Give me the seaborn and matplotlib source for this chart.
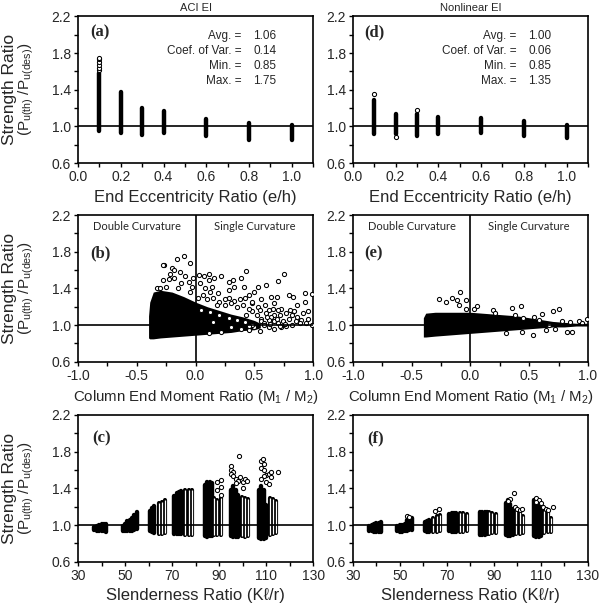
import matplotlib
matplotlib.use("Agg")
import matplotlib.pyplot as plt
import seaborn as sns
from matplotlib.ticker import FormatStrFormatter

# ---- data ----
# (a) / (d): vertical stacks of results at each end eccentricity ratio
ecc = [0.1, 0.2, 0.3, 0.4, 0.6, 0.8, 1.0]
a_lo = [0.95, 0.93, 0.91, 0.93, 0.89, 0.85, 0.85]
a_hi = [1.58, 1.38, 1.20, 1.17, 1.08, 1.04, 1.01]
a_out_x = [0.1, 0.1, 0.1, 0.1, 0.1, 0.1]
a_out_y = [1.61, 1.64, 1.67, 1.70, 1.73, 1.75]

d_lo = [0.92, 0.92, 0.90, 0.92, 0.93, 0.90, 0.87]
d_hi = [1.29, 1.14, 1.13, 1.10, 1.09, 1.06, 1.02]
d_out_x = [0.1, 0.2, 0.3]
d_out_y = [1.35, 0.88, 1.18]

# (b) / (e): dense core of the cloud (edges) plus the scattered points around it
b_env_x = [-0.40, -0.39, -0.36, -0.30, -0.20, -0.10, 0.00, 0.10, 0.20, 0.30, 0.40, 0.50, 0.55]
b_env_hi = [1.10, 1.25, 1.36, 1.38, 1.36, 1.31, 1.25, 1.20, 1.16, 1.12, 1.09, 1.05, 1.02]
b_env_lo = [0.86, 0.85, 0.85, 0.86, 0.87, 0.88, 0.89, 0.90, 0.91, 0.92, 0.94, 0.95, 0.97]
b_x = [-0.27, -0.28, -0.16, -0.10, -0.05, -0.20, -0.18, -0.22, -0.13, -0.28, -0.23, -0.18,
       -0.09, -0.06, -0.02, 0.03, 0.07, 0.11, 0.11, 0.16, 0.22, 0.28, 0.32, 0.39, 0.43,
       0.41, 0.45, 0.53, 0.60, 0.70, 0.75, 0.50, 0.56, 0.64, 0.69, 0.79, 0.83, 0.93, 0.99,
       0.86, 0.93, 0.96, 0.82, 0.90, 0.94, 0.73, 0.67, 0.77, 0.84, 0.62, 0.53, 0.48, 0.33,
       0.25, 0.19, 0.28, 0.33, 0.14, 0.08, 0.04, -0.03, -0.12, -0.33, 0.73, 0.55, 0.45,
       0.64, 0.56, 0.39, 0.22, 0.11, 0.67,
       0.52, 0.56, 0.60, 0.64, 0.67, 0.72, 0.74, 0.79, 0.82, 0.86, 0.89, 0.96, 0.99, 0.91,
       0.80, 0.70, 0.59, 0.66, 0.55, 0.48, 0.43, 0.62, 0.50, 0.67,
       0.02, 0.06, 0.10, 0.15, 0.20, 0.25, 0.30, 0.35, 0.40, 0.45, 0.12, 0.18, 0.28, 0.38,
       0.42, 0.48, -0.05, -0.15, -0.25, -0.30,
       0.05, 0.12, 0.20, 0.28, 0.35, 0.42, 0.48, 0.15, 0.30, 0.45, 0.58, 0.62, 0.70, 0.77,
       0.58, 0.63, 0.69, 0.76, 0.85, 0.61, 0.72]
b_y = [1.66, 1.65, 1.72, 1.75, 1.68, 1.62, 1.60, 1.56, 1.58, 1.49, 1.50, 1.51,
       1.53, 1.47, 1.51, 1.55, 1.53, 1.56, 1.49, 1.51, 1.53, 1.47, 1.49, 1.51, 1.59,
       1.41, 1.33, 1.41, 1.44, 1.48, 1.56, 1.36, 1.29, 1.31, 1.31, 1.33, 1.31, 1.35, 1.34,
       1.22, 1.25, 1.15, 1.11, 1.06, 1.02, 1.18, 1.24, 1.13, 1.15, 1.16, 1.20, 1.24, 1.26,
       1.29, 1.35, 1.38, 1.42, 1.42, 1.40, 1.46, 1.42, 1.46, 1.40, 0.98, 0.94, 0.95,
       1.04, 1.07, 0.96, 0.93, 0.91, 1.11,
       1.11, 1.04, 1.13, 1.09, 1.04, 1.11, 1.04, 1.07, 1.00, 1.09, 1.02, 1.07, 1.00, 1.13,
       1.16, 1.16, 1.22, 1.18, 1.16, 1.15, 1.11, 0.98, 0.98, 0.96,
       1.30, 1.33, 1.28, 1.30, 1.25, 1.22, 1.24, 1.20, 1.22, 1.18, 1.36, 1.22, 1.30, 1.28,
       1.30, 1.25, 1.36, 1.40, 1.42, 1.40,
       1.17, 1.14, 1.11, 1.08, 1.06, 1.03, 1.00, 1.03, 0.98, 0.99, 1.02, 1.06, 1.02, 0.99,
       1.00, 1.01, 1.07, 1.01, 1.05, 1.09, 0.99]

e_env_x = [-0.40, -0.38, -0.30, -0.20, -0.10, 0.00, 0.10, 0.20, 0.30, 0.40, 0.50, 0.60,
           0.70, 0.80, 0.90, 1.00]
e_env_hi = [1.08, 1.13, 1.14, 1.14, 1.14, 1.14, 1.13, 1.12, 1.11, 1.10, 1.08, 1.06,
            1.04, 1.03, 1.02, 1.02]
e_env_lo = [0.87, 0.87, 0.88, 0.89, 0.90, 0.91, 0.92, 0.93, 0.94, 0.95, 0.96, 0.97,
            0.98, 0.98, 0.99, 0.99]
e_x = [-0.09, -0.27, -0.16, -0.21, -0.11, -0.10, -0.04, -0.04, 0.06, 0.03, 0.19, 0.35,
       0.43, 0.61, 0.75, 0.70, 0.53, 0.44, 0.30, 0.82, 0.86, 0.92, 0.99, 0.67, 0.78,
       0.85, 0.95, 0.21, 0.38, 0.54, 0.64, 0.72,
       0.45, 0.58]
e_y = [1.36, 1.28, 1.30, 1.25, 1.27, 1.22, 1.27, 1.18, 1.21, 1.18, 1.16, 1.19,
       1.21, 1.12, 1.18, 1.15, 0.89, 0.92, 0.91, 0.92, 0.92, 1.04, 1.07, 1.00, 1.04,
       1.03, 1.02, 1.13, 1.11, 1.09, 0.95, 0.96,
       1.08, 1.06]

# (c) / (f): stacks at each slenderness ratio -- solid blocks and hollow stripes
blk_x = [37, 38, 39, 40, 41, 42, 49, 50, 51, 52, 53, 54, 55, 60.5, 61.5, 62.5,
         71, 72, 73, 74, 84, 85, 86, 87, 95, 96, 97, 98, 107, 108, 109, 110]
str_x = [64.3, 65.7, 67.1, 75.6, 77.0, 78.4, 87.9, 89.3, 90.7, 99.6, 101.0, 102.4,
         111.5, 112.9, 114.3]

c_blk_lo = [0.95, 0.94, 0.93, 0.93, 0.93, 0.92, 0.94, 0.93, 0.93, 0.93, 0.94, 0.95, 0.96,
            0.93, 0.92, 0.91, 0.90, 0.90, 0.90, 0.90, 0.88, 0.87, 0.88, 0.88,
            0.88, 0.87, 0.87, 0.87, 0.86, 0.85, 0.85, 0.86]
c_blk_hi = [0.98, 0.99, 1.00, 1.01, 1.01, 1.01, 0.99, 1.01, 1.04, 1.06, 1.08, 1.11, 1.14,
            1.15, 1.19, 1.21, 1.32, 1.35, 1.36, 1.37, 1.44, 1.47, 1.47, 1.46,
            1.38, 1.42, 1.38, 1.33, 1.38, 1.42, 1.38, 1.22]
c_str_lo = [0.90, 0.90, 0.91, 0.89, 0.89, 0.89, 0.89, 0.89, 0.89, 0.88, 0.87, 0.88,
            0.89, 0.90, 0.91]
c_str_hi = [1.24, 1.25, 1.27, 1.38, 1.38, 1.38, 1.30, 1.27, 1.29, 1.31, 1.30, 1.28,
            1.30, 1.28, 1.26]
c_out_x = [89, 91, 91, 89, 91, 98.5, 95, 95, 96, 95, 96, 97, 98, 99, 97, 100, 101, 102, 100,
           108, 108.5, 109, 108, 109, 110, 109, 108, 111, 112, 112, 115, 110, 111]
c_out_y = [1.47, 1.49, 1.41, 1.38, 1.33, 1.75, 1.64, 1.60, 1.58, 1.56, 1.53, 1.50, 1.48, 1.52,
           1.46, 1.47, 1.50, 1.48, 1.40,
           1.70, 1.72, 1.67, 1.62, 1.60, 1.55, 1.53, 1.50, 1.56, 1.58, 1.52, 1.58, 1.47, 1.45]

f_blk_lo = [0.94, 0.93, 0.92, 0.92, 0.92, 0.92, 0.93, 0.92, 0.92, 0.93, 0.94, 0.95, 0.95,
            0.93, 0.92, 0.92, 0.93, 0.92, 0.92, 0.92, 0.89, 0.89, 0.89, 0.90,
            0.89, 0.88, 0.88, 0.89, 0.88, 0.87, 0.87, 0.88]
f_blk_hi = [0.99, 1.00, 1.01, 1.02, 1.02, 1.03, 0.99, 1.00, 1.00, 1.01, 1.05, 1.08, 1.08,
            1.03, 1.04, 1.05, 1.12, 1.13, 1.13, 1.13, 1.14, 1.14, 1.14, 1.14,
            1.24, 1.27, 1.23, 1.18, 1.27, 1.28, 1.24, 1.17]
f_str_lo = [0.92, 0.92, 0.93, 0.92, 0.92, 0.93, 0.90, 0.91, 0.91, 0.90, 0.90, 0.91,
            0.91, 0.92, 0.92]
f_str_hi = [1.08, 1.10, 1.11, 1.13, 1.13, 1.12, 1.14, 1.13, 1.12, 1.16, 1.15, 1.10,
            1.15, 1.14, 1.08]
f_out_x = [53, 54, 65, 66.5, 98.5, 97, 96, 99, 100, 101, 102, 108, 109, 110, 111, 112, 113, 115, 108]
f_out_y = [1.10, 1.09, 1.15, 1.18, 1.35, 1.28, 1.26, 1.20, 1.17, 1.16, 1.17, 1.29, 1.27, 1.24,
           1.20, 1.18, 1.16, 1.20, 1.25]

stats_a = ["1.06", "0.14", "0.85", "1.75"]
stats_d = ["1.00", "0.06", "0.85", "1.35"]
stat_names = ["Avg. =", "Coef. of Var. =", "Min. =", "Max. ="]

# ---- style ----
sns.set_style("ticks")
plt.rcParams["font.family"] = ["Liberation Sans", "DejaVu Sans"]
plt.rcParams["mathtext.fontset"] = "custom"
plt.rcParams["mathtext.rm"] = "Liberation Sans"
plt.rcParams["mathtext.it"] = "Liberation Sans:italic"

fig = plt.figure(figsize=(6, 6.04), dpi=100)
col_x = [0.13, 0.588]
row_y = [0.730, 0.401, 0.070]
W, H = 0.392, 0.243
axes = [[fig.add_axes([cx, ry, W, H]) for cx in col_x] for ry in row_y]


def setup(ax, xlim, xmaj, xmin, fmt):
    ax.set_xlim(xlim)
    ax.set_ylim(0.6, 2.2)
    ax.set_xticks(xmaj)
    ax.set_xticks(xmin, minor=True)
    ax.set_yticks([0.6, 1.0, 1.4, 1.8, 2.2])
    ax.set_yticks([0.8, 1.2, 1.6, 2.0], minor=True)
    ax.xaxis.set_major_formatter(FormatStrFormatter(fmt))
    ax.yaxis.set_major_formatter(FormatStrFormatter("%.1f"))
    ax.tick_params(which="both", direction="out", length=3, width=1, color="black",
                   labelsize=10, pad=2)
    for s in ax.spines.values():
        s.set_linewidth(1.2)
        s.set_color("black")
    ax.axhline(1.0, color="black", lw=1.2, zorder=5)


def stacks(ax, x, lo, hi):
    ax.vlines(x, lo, hi, colors="black", linewidth=3.2, capstyle="round", zorder=2)


def hollow_stacks(ax, x, lo, hi):
    # stacks of open circles: dark rim with a light core
    ax.vlines(x, lo, hi, colors="black", linewidth=3.0, capstyle="round", zorder=2)
    ax.vlines(x, lo, hi, colors="white", linewidth=0.9, zorder=3)


def dots(ax, x, y):
    sns.scatterplot(x=x, y=y, ax=ax, marker="o", s=9, color="white",
                    edgecolor="black", linewidth=0.75, zorder=4, legend=False)


def ylab(ax):
    ax.text(-0.29, 0.5, "Strength Ratio", rotation=90, fontsize=12.5,
            transform=ax.transAxes, ha="center", va="center")
    ax.text(-0.22, 0.5, r"$\mathregular{(P_{u(th)}\ /P_{u(des)})}$", rotation=90, fontsize=11,
            transform=ax.transAxes, ha="center", va="center")


def tag(ax, s, x, y):
    ax.text(x, y, s, transform=ax.transAxes, fontsize=12, fontweight="bold",
            family="Liberation Serif", ha="left", va="center")


# row 1: end eccentricity
for ax, lo, hi, ox, oy, st, lab, title in [
        (axes[0][0], a_lo, a_hi, a_out_x, a_out_y, stats_a, "(a)", "ACI EI"),
        (axes[0][1], d_lo, d_hi, d_out_x, d_out_y, stats_d, "(d)", "Nonlinear EI")]:
    setup(ax, (0, 1.1), [0, 0.2, 0.4, 0.6, 0.8, 1.0], [0.1, 0.3, 0.5, 0.7, 0.9, 1.1], "%.1f")
    stacks(ax, ecc, lo, hi)
    dots(ax, ox, oy)
    ax.set_xlabel("End Eccentricity Ratio (e/h)", fontsize=12, labelpad=4)
    ax.set_title(title, fontsize=8, pad=4)
    tag(ax, lab, 0.05, 0.89)
    for i, (nm, v) in enumerate(zip(stat_names, st)):
        yy = 0.865 - 0.103 * i
        ax.text(0.695, yy, nm, transform=ax.transAxes, fontsize=8.5, ha="right", va="center")
        ax.text(0.745, yy, v, transform=ax.transAxes, fontsize=8.5, ha="left", va="center")

# row 2: end moment ratio
for ax, ex, ehi, elo, px, py, lab in [
        (axes[1][0], b_env_x, b_env_hi, b_env_lo, b_x, b_y, "(b)"),
        (axes[1][1], e_env_x, e_env_hi, e_env_lo, e_x, e_y, "(e)")]:
    setup(ax, (-1, 1), [-1, -0.5, 0, 0.5, 1], [-0.75, -0.25, 0.25, 0.75], "%.1f")
    ax.fill_between(ex, elo, ehi, color="black", lw=0, zorder=2)
    dots(ax, px, py)
    ax.axvline(0, color="black", lw=1.2, zorder=5)
    ax.set_xlabel(r"Column End Moment Ratio (M$\mathregular{_1}$ / M$\mathregular{_2}$)",
                  fontsize=10.8, labelpad=4)
    tag(ax, lab, 0.05, 0.74)
    for xt, s in [(-0.5, "Double Curvature"), (0.5, "Single Curvature")]:
        ax.text(xt, 2.08, s, fontsize=8, family="Lato", ha="center", va="center")

# row 3: slenderness
for ax, blo, bhi, slo, shi, ox, oy, lab in [
        (axes[2][0], c_blk_lo, c_blk_hi, c_str_lo, c_str_hi, c_out_x, c_out_y, "(c)"),
        (axes[2][1], f_blk_lo, f_blk_hi, f_str_lo, f_str_hi, f_out_x, f_out_y, "(f)")]:
    setup(ax, (30, 130), [30, 50, 70, 90, 110, 130], [40, 60, 80, 100, 120], "%d")
    stacks(ax, blk_x, blo, bhi)
    hollow_stacks(ax, str_x, slo, shi)
    dots(ax, ox, oy)
    ax.set_xlabel("Slenderness Ratio (K\u2113/r)", fontsize=12, labelpad=4)
    tag(ax, lab, 0.06, 0.84)

for row in axes:
    ylab(row[0])
    row[0].set_ylabel("")
    row[1].set_ylabel("")

fig.savefig("out.png", dpi=100)
